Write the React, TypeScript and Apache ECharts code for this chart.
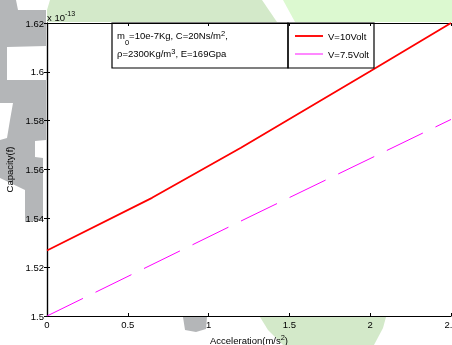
import React, { useEffect, useRef } from 'react';
import * as echarts from 'echarts';

// Data (values in units of 1e-13 F)
const seriesNames = ['V=10Volt', 'V=7.5Volt'];
const accelRed = [0, 0.65, 1.2, 2.0, 2.5];
const capRed = [1.5268, 1.5484, 1.5689, 1.6002, 1.62];
const accelPink = [0, 1.25, 2.5];
const capPink = [1.5, 1.5405, 1.5805];
const xTickLabels = ['0', '0.5', '1', '1.5', '2', '2.5'];
const yTickLabels = ['1.5', '1.52', '1.54', '1.56', '1.58', '1.6', '1.62'];

const FONT = "'Liberation Sans', Arial, Helvetica, sans-serif";

// page watermark around the figure (multiplied over it, outside the plot frame)
const WATERMARK: { pts: string; fill: string }[] = [
  { pts: '50,0 262,0 277,22 47,22 47,10', fill: '#d3e9c9' },
  { pts: '283,0 452,0 452,22 295,22', fill: '#dcf9d0' },
  { pts: '0,0 16,0 18,10 46,10 46,46 7,47 7,80 46,80 46,140 35,141 35,157 43,158 43,220 25,222 25,190 0,178 0,140 7,138 10,120 13,103 0,103', fill: '#b4b6b8' },
  { pts: '183,317 207,317 206,329 196,332 185,330', fill: '#b4b6b8' },
  { pts: '260,317 386,317 383,328 374,345 283,345 268,330', fill: '#d3e9c9' },
];

export default function App() {
  const ref = useRef<HTMLDivElement>(null);
  useEffect(() => {
    document.body.style.margin = '0';
    const chart = echarts.init(ref.current!, null, { renderer: 'svg' });
    const axisLine = { show: true, lineStyle: { color: '#000', width: 1.2 } };
    const axisTick = { show: true, inside: true, length: 3, lineStyle: { color: '#000', width: 1 } };
    const xFmt = (v: number) => xTickLabels[Math.round(v / 0.5)] ?? '';
    const yFmt = (v: number) => yTickLabels[Math.round((v - 1.5) / 0.02)] ?? '';
    chart.setOption({
      animation: false,
      backgroundColor: '#fff',
      textStyle: { fontFamily: FONT },
      grid: {
        left: 47, top: 23, right: 1, bottom: 29,
        outerBoundsMode: 'none', containLabel: false,
        show: false,
      },
      legend: {
        orient: 'vertical',
        left: 295,
        top: 31,
        padding: 0,
        itemWidth: 28,
        itemHeight: 10,
        itemGap: 8,
        selectedMode: false,
        textStyle: { fontSize: 9.5, color: '#000', fontFamily: FONT },
        data: [
          { name: seriesNames[0], icon: 'path://M0,0H30V2H0Z' },
          { name: seriesNames[1], icon: 'path://M0,0H30V1H0Z' },
        ],
      },
      xAxis: [
        {
          type: 'value', min: 0, max: 2.5, interval: 0.5, position: 'bottom',
          axisLine, axisTick, splitLine: { show: false },
          axisLabel: { fontSize: 9.5, color: '#000', margin: 3, formatter: xFmt, showMaxLabel: true },
          name: 'Acceleration(m/s{sup|2})',
          nameLocation: 'middle',
          nameGap: 14,
          nameTextStyle: {
            fontSize: 9.5, color: '#000', fontFamily: FONT,
            rich: { sup: { fontSize: 7.5, color: '#000', padding: [0, 0, 6, 0], fontFamily: FONT } },
          },
        },
        {
          type: 'value', min: 0, max: 2.5, interval: 0.5, position: 'top',
          axisLine, axisTick, splitLine: { show: false }, axisLabel: { show: false },
        },
      ],
      yAxis: [
        {
          type: 'value', min: 1.5, max: 1.62, interval: 0.02, position: 'left',
          axisLine, axisTick, splitLine: { show: false },
          axisLabel: { fontSize: 9.5, color: '#000', margin: 3, formatter: yFmt },
          name: 'Capacity(f)',
          nameLocation: 'middle',
          nameGap: 21,
          nameTextStyle: { fontSize: 9.5, color: '#000', fontFamily: FONT },
        },
        {
          type: 'value', min: 1.5, max: 1.62, interval: 0.02, position: 'right',
          axisLine, axisTick, splitLine: { show: false }, axisLabel: { show: false },
        },
      ],
      series: [
        {
          name: seriesNames[0], type: 'line', symbol: 'none', z: 5,
          data: accelRed.map((a, i) => [a, capRed[i]]),
          lineStyle: { color: '#ff0000', width: 1.8 },
          itemStyle: { color: '#ff0000' },
        },
        {
          name: seriesNames[1], type: 'line', symbol: 'none', z: 5,
          data: accelPink.map((a, i) => [a, capPink[i]]),
          lineStyle: { color: '#ff00ff', width: 1, type: [40, 14] },
          itemStyle: { color: '#ff00ff' },
        },
      ],
      graphic: [
        {
          type: 'text', x: 47, y: 7, z: 100,
          style: {
            text: '{a|x 10}{b|-13}',
            rich: {
              a: { fontSize: 9.5, fontFamily: FONT, fill: '#000', padding: [5, 0, 0, 0] },
              b: { fontSize: 7, fontFamily: FONT, fill: '#000', padding: [0, 0, 3, 0] },
            },
          },
        },
        {
          type: 'rect', z: 100, silent: true,
          shape: { x: 112, y: 23, width: 176, height: 45 },
          style: { fill: 'none', stroke: '#000', lineWidth: 1.2 },
        },
        {
          type: 'text', z: 101, x: 117, y: 27,
          style: {
            text: '{n|m}{sub|0}{n|=10e-7Kg, C=20Ns/m}{sup|2}{n|,}\n{n|\u03c1=2300Kg/m}{sup|3}{n|, E=169Gpa}',
            rich: {
              n: { fontSize: 9.5, fontFamily: FONT, fill: '#000', lineHeight: 17.5 },
              sub: { fontSize: 7.5, fontFamily: FONT, fill: '#000', padding: [13, 0, 0, 0], lineHeight: 17.5 },
              sup: { fontSize: 7.5, fontFamily: FONT, fill: '#000', padding: [0, 0, 4, 0], lineHeight: 17.5 },
            },
          },
        },
        {
          type: 'rect', z: 100, silent: true,
          shape: { x: 288, y: 23, width: 86, height: 45 },
          style: { fill: 'none', stroke: '#000', lineWidth: 1.2 },
        },
      ],
    });
    return () => chart.dispose();
  }, []);
  return (
    <div style={{ position: 'relative', width: 452, height: 345, background: '#fff' }}>
      <div ref={ref} style={{ position: 'absolute', left: 0, top: 0, width: 452, height: 345 }} />
      <svg
        width={452}
        height={345}
        style={{ position: 'absolute', left: 0, top: 0, pointerEvents: 'none', mixBlendMode: 'multiply' }}
      >
        {WATERMARK.map((w, i) => (
          <polygon key={i} points={w.pts} fill={w.fill} />
        ))}
      </svg>
    </div>
  );
}
